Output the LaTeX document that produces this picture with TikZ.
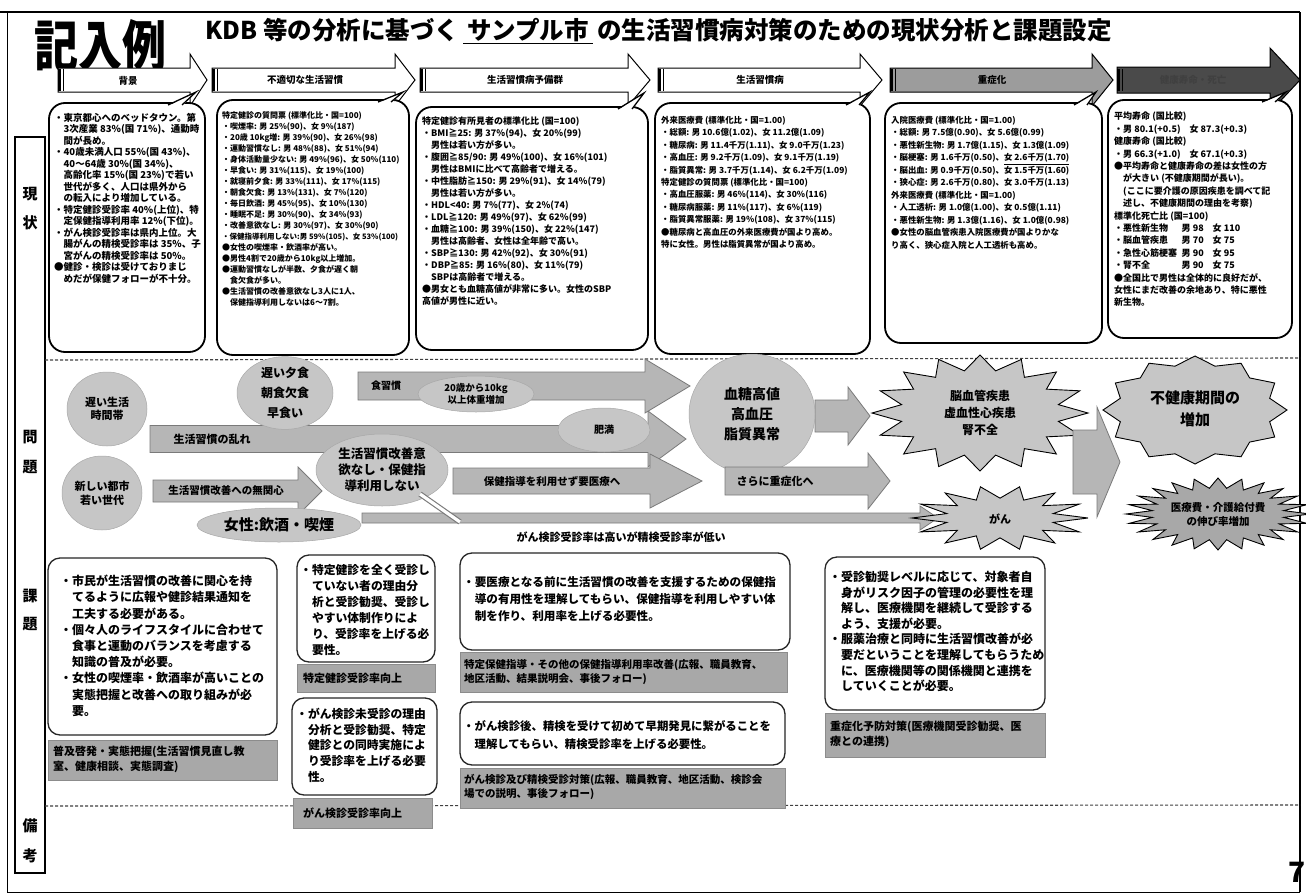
\documentclass[tikz,border=0pt]{standalone}
\usepackage{fontspec}
\setmainfont{Noto Sans CJK JP}
\XeTeXlinebreaklocale "ja"
\usetikzlibrary{shapes.geometric}
\definecolor{shp}{HTML}{C6C6C6}
\definecolor{shpd}{HTML}{7A7A7A}
\definecolor{arr}{HTML}{B6B6B6}
\definecolor{gbox}{HTML}{A8A8A8}
\definecolor{hdark}{HTML}{4A4A4A}
\definecolor{hmid}{HTML}{9C9C9C}
\newcommand{\fsz}[2]{\fontsize{#1}{#2}\selectfont}
\newcommand{\ind}{\hspace*{1em}}
% style, x1, x2, xtip, yc, body half height, head half height
\newcommand{\blockarrow}[7]{\draw[#1] ({#2},{#5-#6}) -- ({#3},{#5-#6}) -- ({#3},{#5-#7}) -- ({#4},{#5}) -- ({#3},{#5+#7}) -- ({#3},{#5+#6}) -- ({#2},{#5+#6}) -- cycle;}
% style, cx, cy, rx, ry, n, samples(2n+1), inner ratio
\newcommand{\burst}[8]{\draw[#1] plot[samples=#7, domain=0:360] ({#2+#4*(1-(1-#8)*(1-cos(#6*\x))/2)*cos(\x)}, {#3+#5*(1-(1-#8)*(1-cos(#6*\x))/2)*sin(\x)}) -- cycle;}
% style, name, x1, y1, x2, y2
\newcommand{\rbox}[6]{\node[#1, minimum width={#5-#3}, minimum height={#6-#4}] (#2) at ({(#3+#5)/2},{(#4+#6)/2}) {};}
\begin{document}
\begin{tikzpicture}[x=1pt,y=-1pt,
  callout/.style={draw=black,line width=1.8pt,rounded corners=16pt,fill=white,inner sep=0pt,outer sep=0pt},
  kbox/.style={draw=black!85,line width=1.3pt,rounded corners=12pt,fill=white,inner sep=0pt},
  gbx/.style={fill=gbox,draw=black!45,line width=0.6pt,inner sep=0pt},
  txt/.style={anchor=north west,inner sep=0pt,align=left},
  sec/.style={font=\fsz{15}{15}\bfseries,inner sep=0pt},
  harr/.style={draw=black,line width=1pt,fill=white},
  marr/.style={draw=shpd,line width=0.8pt,fill=arr},
  ell/.style={ellipse,fill=shp,draw=shp!85!black,line width=0.5pt,inner sep=0pt,align=center},
  bst/.style={draw=black,line width=0.9pt,fill=shp},
  dsh/.style={dash pattern=on 3pt off 2pt,line width=1.1pt,black!75},
  wedge/.style={fill=white},
  wedgeline/.style={draw=black,line width=1.3pt}
]
\useasboundingbox (0,0) rectangle (1306,894);
\fill[white] (0,0) rectangle (1306,894);

% ---------- frame ----------
\draw[line width=2.4pt] (0,12) -- (1300,12);
\draw[line width=1.6pt] (1300,12) -- (1300,892);
\draw[line width=1pt] (7,12) -- (7,892) -- (1300,892);
\rbox{draw,line width=1.3pt,inner sep=0pt}{lcol}{15}{137}{45}{873}
\node[sec] (l1) at (30,194) {現};
\node[sec] (l2) at (30,223) {状};
\node[sec] (l3) at (30,437) {問};
\node[sec] (l4) at (30,467) {題};
\node[sec] (l5) at (30,596) {課};
\node[sec] (l6) at (30,624) {題};
\node[sec] (l7) at (30,826) {備};
\node[sec] (l8) at (30,856) {考};
\coordinate (d1a) at (45,360); \coordinate (d1b) at (1300,358);
\coordinate (d2a) at (45,806); \coordinate (d2b) at (1300,805);
\draw[dsh] (d1a) -- (d1b);
\draw[dsh] (d2a) -- (d2b);
\node[font=\fsz{28}{28}\bfseries,inner sep=0pt] (pg) at (1297,872) {7};

% ---------- title ----------
\node[font=\fsz{44}{44}\bfseries,inner sep=0pt] (kinyu) at (100,46) {\scalebox{1}[1.25]{記入例}};
\node[anchor=west,font=\fsz{24.5}{24.5}\bfseries,inner sep=0pt] (title) at (205,31) {KDB 等の分析に基づく\,\underline{\,サンプル市\,}\,の生活習慣病対策のための現状分析と課題設定};

% ---------- header arrows ----------
\blockarrow{harr}{58}{190}{207}{80}{12}{26}
\blockarrow{harr}{212}{395}{415}{80}{12}{26}
\blockarrow{harr}{420}{628}{650}{80}{12}{26}
\blockarrow{harr}{658}{860}{882}{80}{12}{26}
\blockarrow{draw=black,line width=1pt,fill=hmid}{890}{1092}{1113}{80}{12}{26}
\blockarrow{draw=black,line width=1pt,fill=hdark}{1117}{1270}{1300}{80}{13}{32}
\foreach \xx in {58,212,420,658,890,1117}{
  \draw[line width=2.2pt] ({\xx+1.5},69) -- ({\xx+1.5},91);
  \draw[line width=0.7pt] ({\xx+5},69) -- ({\xx+5},91);
}
\node[font=\fsz{9.5}{10}\bfseries] (h1) at (128,81) {背景};
\node[font=\fsz{9.5}{10}\bfseries] (h2) at (305,80) {不適切な生活習慣};
\node[font=\fsz{9.5}{10}\bfseries] (h3) at (525,80) {生活習慣病予備群};
\node[font=\fsz{9.5}{10}\bfseries] (h4) at (760,80) {生活習慣病};
\node[font=\fsz{9.5}{10}\bfseries] (h5) at (992,80) {重症化};
\node[font=\fsz{9.5}{10}\bfseries,text=black!75] (h6) at (1193,80) {健康寿命・死亡};

% ---------- 現状 boxes ----------
\rbox{callout}{b1}{49}{103}{205}{352}
\rbox{callout}{b2}{217}{100}{409}{355}
\rbox{callout}{b3}{416}{107}{648}{350}
\rbox{callout}{b4}{655}{103}{870}{354}
\rbox{callout}{b5}{885}{103}{1102}{343}
\rbox{callout}{b6}{1108}{100}{1292}{338}
\foreach \a/\b/\yb/\tx/\ty in {168/182/104/196/92, 378/391/101/403/92, 618/632/108/644/93, 846/859/104/870/92, 1074/1087/104/1096/92, 1262/1275/101/1286/92}{
  \fill[wedge] (\a,{\yb+2}) -- (\tx,\ty) -- (\b,{\yb+2}) -- cycle;
  \draw[wedgeline] (\a,{\yb+1}) -- (\tx,\ty) -- (\b,{\yb+1});
}

\node[txt,font=\fsz{9.5}{11.5}\bfseries] (t1) at (54,113) {%
・東京都心へのベッドタウン。第\\
\ind 3次産業 83\%(国 71\%)、通勤時\\
\ind 間が長め。\\
・40歳未満人口 55\%(国 43\%)、\\
\ind 40〜64歳 30\%(国 34\%)、\\
\ind 高齢化率 15\%(国 23\%)で若い\\
\ind 世代が多く、人口は県外から\\
\ind の転入により増加している。\\
・特定健診受診率 40\%(上位)、特\\
\ind 定保健指導利用率 12\%(下位)。\\
・がん検診受診率は県内上位。大\\
\ind 腸がんの精検受診率は 35\%、子\\
\ind 宮がんの精検受診率は 50\%。\\
●健診・検診は受けておりまじ\\
\ind めだが保健フォローが不十分。};

\node[txt,font=\fsz{8}{11}\bfseries] (t2) at (222,111) {%
特定健診の質問票 (標準化比・国=100)\\
・喫煙率: 男 25\%(90)、女 9\%(187)\\
・20歳 10kg増: 男 39\%(90)、女 26\%(98)\\
・運動習慣なし: 男 48\%(88)、女 51\%(94)\\
・身体活動量少ない: 男 49\%(96)、女 50\%(110)\\
・早食い: 男 31\%(115)、女 19\%(100)\\
・就寝前夕食: 男 33\%(111)、女 17\%(115)\\
・朝食欠食: 男 13\%(131)、女 7\%(120)\\
・毎日飲酒: 男 45\%(95)、女 10\%(130)\\
・睡眠不足: 男 30\%(90)、女 34\%(93)\\
・改善意欲なし: 男 30\%(97)、女 30\%(90)\\
{\fsz{7.5}{11}・保健指導利用しない:男 59\%(105)、女 53\%(100)}\\
●女性の喫煙率・飲酒率が高い。\\
●男性4割で20歳から10kg以上増加。\\
●運動習慣なしが半数、夕食が遅く朝\\
\ind 食欠食が多い。\\
●生活習慣の改善意欲なし3人に1人、\\
\ind 保健指導利用しないは6〜7割。};

\node[txt,font=\fsz{9}{12}\bfseries] (t3) at (422,117) {%
特定健診有所見者の標準化比 (国=100)\\
・BMI≧25: 男 37\%(94)、女 20\%(99)\\
\ind 男性は若い方が多い。\\
・腹囲≧85/90: 男 49\%(100)、女 16\%(101)\\
\ind 男性はBMIに比べて高齢者で増える。\\
・中性脂肪≧150: 男 29\%(91)、女 14\%(79)\\
\ind 男性は若い方が多い。\\
・HDL<40: 男 7\%(77)、女 2\%(74)\\
・LDL≧120: 男 49\%(97)、女 62\%(99)\\
・血糖≧100: 男 39\%(150)、女 22\%(147)\\
\ind 男性は高齢者、女性は全年齢で高い。\\
・SBP≧130: 男 42\%(92)、女 30\%(91)\\
・DBP≧85: 男 16\%(80)、女 11\%(79)\\
\ind SBPは高齢者で増える。\\
●男女とも血糖高値が非常に多い。女性のSBP\\
高値が男性に近い。};

\node[txt,font=\fsz{8.4}{12.4}\bfseries] (t4) at (661,116) {%
外来医療費 (標準化比・国=1.00)\\
・総額: 男 10.6億(1.02)、女 11.2億(1.09)\\
・糖尿病: 男 11.4千万(1.11)、女 9.0千万(1.23)\\
・高血圧: 男 9.2千万(1.09)、女 9.1千万(1.19)\\
・脂質異常: 男 3.7千万(1.14)、女 6.2千万(1.09)\\
特定健診の質問票 (標準化比・国=100)\\
・高血圧服薬: 男 46\%(114)、女 30\%(116)\\
・糖尿病服薬: 男 11\%(117)、女 6\%(119)\\
・脂質異常服薬: 男 19\%(108)、女 37\%(115)\\
●糖尿病と高血圧の外来医療費が国より高め。\\
特に女性。男性は脂質異常が国より高め。};

\node[txt,font=\fsz{8.4}{12.5}\bfseries] (t5) at (891,116) {%
入院医療費 (標準化比・国=1.00)\\
・総額: 男 7.5億(0.90)、女 5.6億(0.99)\\
・悪性新生物: 男 1.7億(1.15)、女 1.3億(1.09)\\
・脳梗塞: 男 1.6千万(0.50)、\underline{女 2.6千万(1.70)}\\
・脳出血: 男 0.9千万(0.50)、女 1.5千万(1.60)\\
・狭心症: 男 2.6千万(0.80)、女 3.0千万(1.13)\\
外来医療費 (標準化比・国=1.00)\\
・人工透析: 男 1.0億(1.00)、女 0.5億(1.11)\\
・悪性新生物: 男 1.3億(1.16)、女 1.0億(0.98)\\
●女性の脳血管疾患入院医療費が国よりかな\\
り高く、狭心症入院と人工透析も高め。};

\node[txt,font=\fsz{9}{12.4}\bfseries] (t6) at (1114,112) {%
平均寿命 (国比較)\\
・男 80.1(+0.5)\quad 女 87.3(+0.3)\\
健康寿命 (国比較)\\
・男 66.3(+1.0)\quad 女 67.1(+0.3)\\
●平均寿命と健康寿命の差は女性の方\\
\ind が大きい (不健康期間が長い)。\\
\ind (ここに要介護の原因疾患を調べて記\\
\ind 述し、不健康期間の理由を考察)\\
標準化死亡比 (国=100)\\
\makebox[7.5em][l]{・悪性新生物}男 98\quad 女 110\\
\makebox[7.5em][l]{・脳血管疾患}男 70\quad 女 75\\
\makebox[7.5em][l]{・急性心筋梗塞}男 90\quad 女 95\\
\makebox[7.5em][l]{・腎不全}男 90\quad 女 75\\
●全国比で男性は全体的に良好だが、\\
女性にまだ改善の余地あり、特に悪性\\
新生物。};

% ---------- 問題 section ----------
\blockarrow{marr}{150}{648}{686}{439}{13.5}{28}
\blockarrow{marr}{358}{645}{690}{386}{14}{27}
\blockarrow{marr}{153}{298}{322}{491}{11}{24}
\blockarrow{marr}{453}{650}{702}{481}{13}{27}
\blockarrow{marr}{362}{920}{938}{518}{5}{12}
\blockarrow{marr}{815}{848}{870}{416}{16}{29}

\node[font=\fsz{10}{10}\bfseries] (a1) at (386,386) {食習慣};
\node[font=\fsz{11}{11}\bfseries] (a2) at (212,439) {生活習慣の乱れ};
\node[font=\fsz{10.5}{10.5}\bfseries] (a3) at (226,491) {生活習慣改善への無関心};
\node[font=\fsz{10.5}{10.5}\bfseries] (a4) at (552,481) {保健指導を利用せず要医療へ};

\node[ell,minimum width=80,minimum height=74,font=\fsz{11}{13}\bfseries] (e1) at (107,409) {遅い生活\\時間帯};
\node[ell,minimum width=80,minimum height=74,font=\fsz{11}{14}\bfseries] (e2) at (102,493) {新しい都市\\若い世代};
\node[ell,minimum width=96,minimum height=66,font=\fsz{12}{20}\bfseries] (e3) at (285,393) {遅い夕食\\朝食欠食\\早食い};
\node[ell,minimum width=116,minimum height=36,font=\fsz{9.5}{12}\bfseries] (e6) at (476,394) {20歳から10kg\\以上体重増加};
\node[ell,minimum width=92,minimum height=44,font=\fsz{10}{10}\bfseries] (e7) at (604,430) {肥満};
\node[ell,minimum width=132,minimum height=72,font=\fsz{12.5}{16}\bfseries] (e4) at (382,470) {生活習慣改善意\\欲なし・保健指\\導利用しない};
\node[ell,minimum width=164,minimum height=34,font=\fsz{15}{15}\bfseries] (e5) at (279,525) {女性:飲酒・喫煙};
\coordinate (dg1) at (420,494); \coordinate (dg2) at (460,522);
\draw[shpd,line width=5.5pt] (dg1) -- (dg2);
\draw[white,line width=3.2pt] (dg1) -- (dg2);
\node[font=\fsz{11}{11}\bfseries] (gtxt) at (621,537) {がん検診受診率は高いが精検受診率が低い};

\node[ell,minimum width=126,minimum height=120,font=\fsz{14}{20}\bfseries] (e8) at (752,414) {血糖高値\\高血圧\\脂質異常};
\blockarrow{marr}{725}{868}{890}{481}{14}{28}
\node[font=\fsz{11}{11}\bfseries] (a6) at (775,481) {さらに重症化へ};

\burst{bst}{980}{413}{108}{58}{16}{33}{0.74}
\node[align=center,font=\fsz{12}{17}\bfseries] (s1) at (980,413) {脳血管疾患\\虚血性心疾患\\腎不全};
\burst{bst}{1000}{518}{88}{32}{14}{29}{0.62}
\node[font=\fsz{11}{11}\bfseries] (s2) at (1000,519) {がん};
\blockarrow{marr}{1073}{1097}{1120}{462}{32}{55}
\burst{bst}{1195}{410}{92}{54}{12}{25}{0.84}
\node[align=center,font=\fsz{15}{22}\bfseries] (s3) at (1195,409) {不健康期間の\\増加};
\burst{draw=black,line width=0.9pt,fill=shp!85!black}{1218}{514}{92}{36}{24}{49}{0.72}
\node[align=center,font=\fsz{10.5}{14}\bfseries] (s4) at (1218,514) {医療費・介護給付費\\の伸び率増加};

% ---------- 課題 section ----------
\rbox{kbox}{k1}{48}{558}{277}{735}
\node[txt,font=\fsz{12}{16.2}\bfseries] (k1t) at (60,575) {%
・市民が生活習慣の改善に関心を持\\
\ind てるように広報や健診結果通知を\\
\ind 工夫する必要がある。\\
・個々人のライフスタイルに合わせて\\
\ind 食事と運動のバランスを考慮する\\
\ind 知識の普及が必要。\\
・女性の喫煙率・飲酒率が高いことの\\
\ind 実態把握と改善への取り組みが必\\
\ind 要。};
\rbox{gbx}{k1b}{48}{740}{277}{780}
\node[txt,font=\fsz{11}{15}\bfseries] (k1bt) at (53,746) {普及啓発・実態把握(生活習慣見直し教\\室、健康相談、実態調査)};

\rbox{kbox}{k2}{297}{555}{435}{662}
\node[txt,font=\fsz{11.8}{16}\bfseries] (k2t) at (300,564) {%
・特定健診を全く受診し\\
\ind ていない者の理由分\\
\ind 析と受診勧奨、受診し\\
\ind やすい体制作りによ\\
\ind り、受診率を上げる必\\
\ind 要性。};
\rbox{gbx}{k2b}{297}{664}{435}{692}
\node[anchor=west,font=\fsz{11}{11}\bfseries,inner sep=0pt] (k2bt) at (303,678) {特定健診受診率向上};

\rbox{kbox}{k3}{292}{698}{437}{795}
\node[txt,font=\fsz{11.8}{15.7}\bfseries] (k3t) at (296,708) {%
・がん検診未受診の理由\\
\ind 分析と受診勧奨、特定\\
\ind 健診との同時実施によ\\
\ind り受診率を上げる必要\\
\ind 性。};
\rbox{gbx}{k3b}{293}{798}{432}{828}
\node[anchor=west,font=\fsz{11}{11}\bfseries,inner sep=0pt] (k3bt) at (303,813) {がん検診受診率向上};

\rbox{kbox}{k4}{460}{553}{790}{650}
\node[txt,font=\fsz{11.6}{17}\bfseries] (k4t) at (463,576) {%
・要医療となる前に生活習慣の改善を支援するための保健指\\
\ind 導の有用性を理解してもらい、保健指導を利用しやすい体\\
\ind 制を作り、利用率を上げる必要性。};
\rbox{gbx}{k4b}{460}{652}{787}{692}
\node[txt,font=\fsz{10.5}{14}\bfseries] (k4bt) at (464,659) {特定保健指導・その他の保健指導利用率改善(広報、職員教育、\\地区活動、結果説明会、事後フォロー)};

\rbox{kbox}{k5}{460}{702}{785}{765}
\node[txt,font=\fsz{11.4}{18}\bfseries] (k5t) at (463,720) {%
・がん検診後、精検を受けて初めて早期発見に繋がることを\\
\ind 理解してもらい、精検受診率を上げる必要性。};
\rbox{gbx}{k5b}{460}{768}{785}{808}
\node[txt,font=\fsz{10.5}{14}\bfseries] (k5bt) at (464,774) {がん検診及び精検受診対策(広報、職員教育、地区活動、検診会\\場での説明、事後フォロー)};

\rbox{kbox}{k6}{825}{557}{1045}{710}
\node[txt,font=\fsz{12}{15.6}\bfseries] (k6t) at (829,571) {%
・受診勧奨レベルに応じて、対象者自\\
\ind 身がリスク因子の管理の必要性を理\\
\ind 解し、医療機関を継続して受診する\\
\ind よう、支援が必要。\\
・服薬治療と同時に生活習慣改善が必\\
\ind 要だということを理解してもらうため\\
\ind に、医療機関等の関係機関と連携を\\
\ind していくことが必要。};
\rbox{gbx}{k6b}{825}{713}{1045}{757}
\node[txt,font=\fsz{11}{15}\bfseries] (k6bt) at (830,721) {重症化予防対策(医療機関受診勧奨、医\\療との連携)};

\end{tikzpicture}
\end{document}
